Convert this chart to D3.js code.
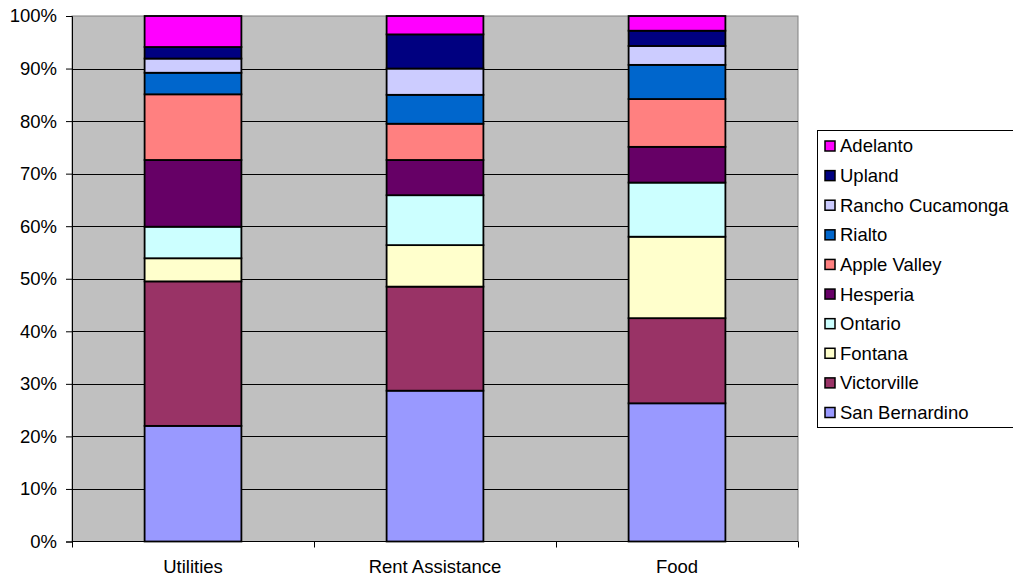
<!DOCTYPE html>
<html>
<head>
<meta charset="utf-8">
<script src="https://cdn.jsdelivr.net/npm/d3@7"></script>
<style>
  html, body { margin: 0; padding: 0; background: #ffffff; overflow: hidden; }
  svg { display: block; }
  text { font-family: "Liberation Sans", Arial, sans-serif; fill: #000; }
</style>
</head>
<body>
<svg id="chart" width="1013" height="577"></svg>
<script>
const categories = ["Utilities", "Rent Assistance", "Food"];
const seriesNames = ["San Bernardino", "Victorville", "Fontana", "Ontario", "Hesperia",
  "Apple Valley", "Rialto", "Rancho Cucamonga", "Upland", "Adelanto"];
const seriesColors = ["#9999FF", "#993366", "#FFFFCC", "#CCFFFF", "#660066",
  "#FF8080", "#0066CC", "#CCCCFF", "#000080", "#FF00FF"];
// percent share per series, in category order (Utilities, Rent Assistance, Food)
const sanBernardino   = [22.0, 28.7, 26.3];
const victorville     = [27.5, 19.8, 16.2];
const fontana         = [4.4, 7.9, 15.5];
const ontario         = [6.0, 9.5, 10.3];
const hesperia        = [12.7, 6.7, 6.8];
const appleValley     = [12.5, 6.9, 9.1];
const rialto          = [4.1, 5.5, 6.5];
const ranchoCucamonga = [2.7, 5.0, 3.6];
const upland          = [2.2, 6.5, 2.9];
const adelanto        = [5.9, 3.5, 2.8];
const yTickLabels = ["0%", "10%", "20%", "30%", "40%", "50%", "60%", "70%", "80%", "90%", "100%"];

const seriesValues = [sanBernardino, victorville, fontana, ontario, hesperia,
  appleValley, rialto, ranchoCucamonga, upland, adelanto];

const FS = 18.5;
const svg = d3.select("#chart");
const plot = { left: 72, right: 798, top: 16, bottom: 541.5 };

const x = d3.scaleBand().domain(categories).range([plot.left, plot.right])
  .paddingInner(0.6).paddingOuter(0.3);
const xTickScale = d3.scaleBand().domain(categories).range([plot.left, plot.right]);
const y = d3.scaleLinear().domain([0, 1]).range([plot.bottom, plot.top]);

// rows normalized to 100% per category
const rows = categories.map((c, i) => {
  const row = { category: c };
  let total = 0;
  seriesNames.forEach((s, j) => { total += seriesValues[j][i]; });
  seriesNames.forEach((s, j) => { row[s] = seriesValues[j][i] / total; });
  return row;
});
const stacked = d3.stack().keys(seriesNames)(rows);

// plot background
svg.append("rect")
  .attr("x", plot.left).attr("y", plot.top)
  .attr("width", plot.right - plot.left).attr("height", plot.bottom - plot.top)
  .attr("fill", "#C0C0C0").attr("stroke", "#808080").attr("stroke-width", 1);

// gridlines
const ticks = d3.range(0, 1.0001, 0.1);
svg.append("g").selectAll("line").data(ticks.slice(1, -1)).join("line")
  .attr("x1", plot.left).attr("x2", plot.right)
  .attr("y1", d => Math.round(y(d)) + 0.5).attr("y2", d => Math.round(y(d)) + 0.5)
  .attr("stroke", "#000").attr("stroke-width", 1);

// y axis
const yAxis = d3.axisLeft(y).tickValues(ticks)
  .tickFormat((d, i) => yTickLabels[i]).tickSize(6).tickPadding(9);
const gy = svg.append("g").attr("transform", `translate(${plot.left},0)`).call(yAxis);
gy.select(".domain").attr("stroke", "#000");
gy.selectAll(".tick line").attr("stroke", "#000");
gy.selectAll(".tick text").attr("font-size", FS).attr("font-family", "Liberation Sans, Arial, sans-serif")
  .attr("fill", "#000");

// bars
svg.append("g").selectAll("g").data(stacked).join("g")
  .attr("fill", (d, i) => seriesColors[i])
  .selectAll("rect").data(d => d).join("rect")
  .attr("x", d => x(d.data.category))
  .attr("width", x.bandwidth())
  .attr("y", d => y(d[1]))
  .attr("height", d => y(d[0]) - y(d[1]))
  .attr("stroke", "#000").attr("stroke-width", 1.8);

// x axis
const gx = svg.append("g").attr("transform", `translate(0,${plot.bottom})`);
gx.append("line").attr("x1", plot.left).attr("x2", plot.right)
  .attr("y1", 0).attr("y2", 0).attr("stroke", "#000");
const boundaries = categories.map(c => xTickScale(c)).concat([plot.right]);
gx.selectAll("line.tk").data(boundaries).join("line").attr("class", "tk")
  .attr("x1", d => Math.round(d) + 0.5).attr("x2", d => Math.round(d) + 0.5)
  .attr("y1", 0).attr("y2", 6).attr("stroke", "#000");
gx.selectAll("text").data(categories).join("text")
  .attr("x", d => xTickScale(d) + xTickScale.bandwidth() / 2)
  .attr("y", 31)
  .attr("text-anchor", "middle").attr("font-size", FS)
  .text(d => d);

// legend
const legend = svg.append("g");
legend.append("rect").attr("x", 817.5).attr("y", 130.5).attr("width", 220).attr("height", 297)
  .attr("fill", "#fff").attr("stroke", "#000").attr("stroke-width", 1);
const legendOrder = seriesNames.map((s, i) => i).reverse();
const ly = d3.scalePoint().domain(legendOrder).range([146, 412.5]);
const items = legend.selectAll("g.item").data(legendOrder).join("g").attr("class", "item")
  .attr("transform", d => `translate(0,${ly(d)})`);
items.append("rect").attr("x", 825).attr("y", -5).attr("width", 10).attr("height", 10)
  .attr("fill", d => seriesColors[d]).attr("stroke", "#000").attr("stroke-width", 1.5);
items.append("text").attr("x", 840).attr("y", 0).attr("dy", "0.35em")
  .attr("font-size", FS).text(d => seriesNames[d]);
</script>
</body>
</html>
